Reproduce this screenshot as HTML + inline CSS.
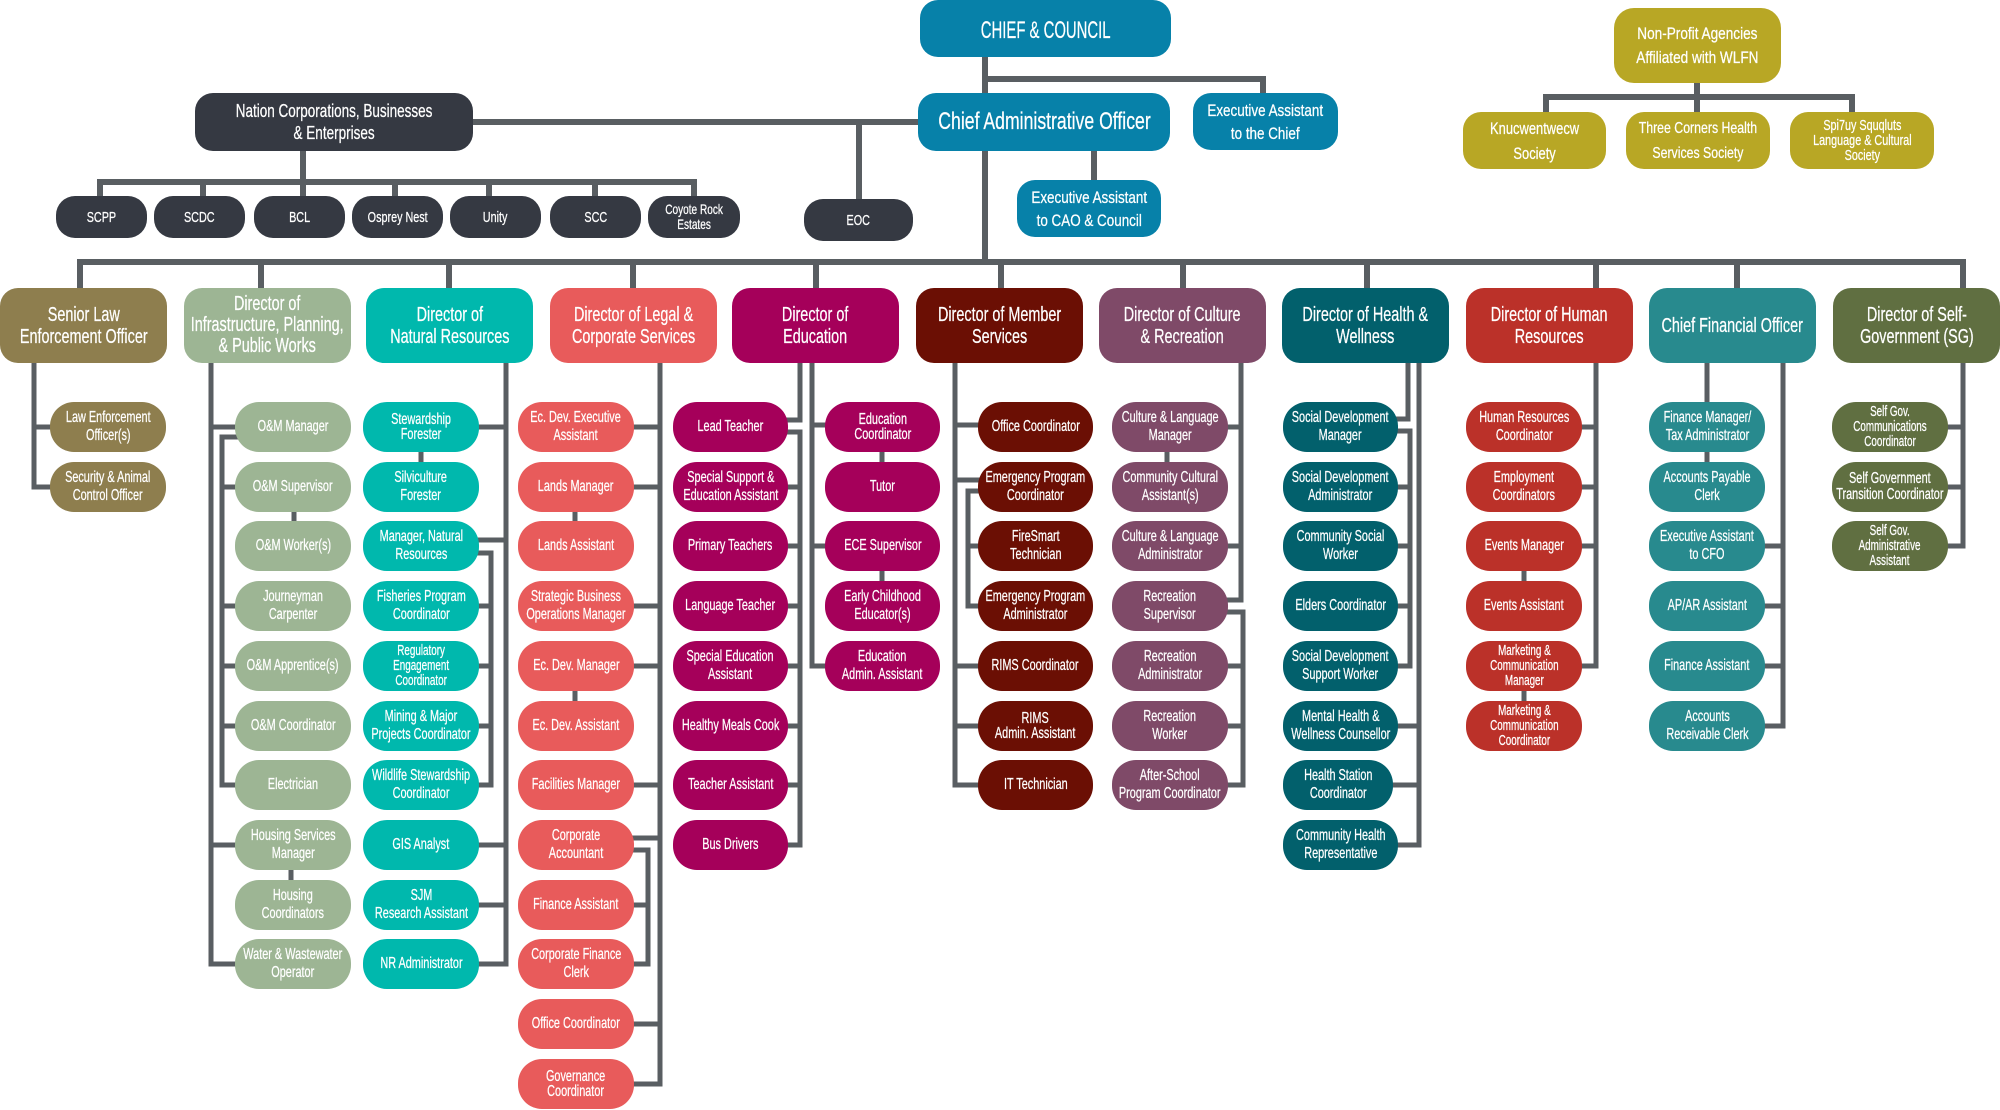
<!DOCTYPE html>
<html><head><meta charset="utf-8"><style>
*{margin:0;padding:0;box-sizing:border-box}
body{width:2000px;height:1110px;background:#fff;position:relative;overflow:hidden;font-family:"Liberation Sans",Arial,sans-serif}
svg{position:absolute;left:0;top:0}
.b{position:absolute;display:flex;align-items:center;justify-content:center;text-align:center;color:#fff}
.b span{display:inline-block;white-space:nowrap;transform:scaleX(var(--s,.68));-webkit-text-stroke:0.25px #fff}
.s{height:50px;border-radius:24px;font-size:16px;line-height:18px}
.t{font-size:14.5px;line-height:15px}
.d{top:288px;height:75px;width:167px;border-radius:18px;font-size:20px;line-height:22px;--s:.72}
.co{top:196px;height:42px;width:91px;border-radius:19px;background:#353942;font-size:15px;line-height:15px;--s:.72}
.g{background:#b8a725}
.bl{background:#0781a9}
.c1{left:50px;width:116px;background:#8e7e4e}
.c2{left:235px;width:116px;background:#9db594}
.c3{left:363px;width:116px;background:#00b8ad}
.c4{left:518px;width:116px;background:#e85b5b}
.c5{left:673px;width:115px;background:#a5005a}
.c5b{left:825px;width:115px;background:#a5005a}
.c6{left:978px;width:115px;background:#6b0f04}
.c7{left:1112px;width:116px;background:#7f4a68}
.c8{left:1283px;width:115px;background:#02606c}
.c9{left:1466px;width:116px;background:#bb3129}
.c10{left:1649px;width:116px;background:#288a8e}
.c11{left:1832px;width:116px;background:#606f41}
.r1{top:402px}.r2{top:462px}.r3{top:521px}.r4{top:581px}.r5{top:641px}.r6{top:701px}
.r7{top:760px}.r8{top:820px}.r9{top:880px}.r10{top:939px}.r11{top:999px}.r12{top:1059px}
</style></head><body>
<svg width="2000" height="1110" fill="none" stroke="#595e62">
<g stroke-width="6">
<path d="M985 50V100 M985 79H1263V100 M470 122H925 M859 122V205 M985 145V262 M1094 145V185 M77 262H1966
M80 262V295 M261 262V295 M449 262V295 M633 262V295 M816 262V295 M1001 262V295 M1183 262V295 M1367 262V295 M1596 262V295 M1737 262V295 M1963 262V295
M303 145V182 M97 182H697 M100 182V200 M203 182V200 M303 182V200 M395 182V200 M489 182V200 M595 182V200 M694 182V200
M1697 80V97 M1543 97H1855 M1546 97V116 M1697 97V116 M1852 97V116"/>
</g>
<g stroke-width="5">
<path d="M34 360V487H55 M34 427H55"/>
<path d="M211 360V964H240 M211 427H240 M211 845H240 M240 437H222V785H240 M222 487H240 M222 606H240 M222 666H240 M222 726H240 M294 508V525 M291 866V884"/>
<path d="M506 360V964H474 M506 427H474 M506 540H474 M506 845H474 M506 905H474 M474 553H491V785H474 M491 606H474 M491 666H474 M491 726H474 M421 448V466"/>
<path d="M660 360V1084H630 M660 427H630 M660 487H630 M660 606H630 M660 666H630 M660 785H630 M660 838H630 M660 1024H630 M630 850H648V964H630 M648 905H630 M575 508V525 M575 687V705"/>
<path d="M800 360V420H783 M783 432H800V845H783 M800 487H783 M800 546H783 M800 606H783 M800 666H783 M800 726H783 M800 785H783 M812 360V666H830 M812 425H830 M812 546H830 M882 448V466 M882 567V585"/>
<path d="M955 360V785H983 M955 425H983 M955 480H983 M955 666H983 M955 726H983 M983 491H968V606H983 M968 546H983"/>
<path d="M1241 360V600H1222 M1241 427H1222 M1241 546H1222 M1222 612H1243V785H1222 M1243 666H1222 M1243 726H1222 M1167 448V466"/>
<path d="M1408 360V419H1393 M1393 431H1410V666H1393 M1410 487H1393 M1410 546H1393 M1410 606H1393 M1419 360V845H1393 M1419 726H1393 M1419 785H1388"/>
<path d="M1596 360V666H1577 M1596 427H1577 M1596 487H1577 M1596 546H1577 M1524 567V585 M1524 687V705"/>
<path d="M1707 360V410 M1707 448V466 M1783 360V726H1760 M1783 546H1760 M1783 606H1760 M1783 666H1760"/>
<path d="M1963 360V546H1943 M1963 427H1943 M1963 487H1943"/>
</g>
</svg>

<!-- top -->
<div class="b bl" style="left:920px;top:0;width:251px;height:57px;border-radius:18px;font-size:24px;--s:.62"><span style="position:relative;top:2px">CHIEF &amp; COUNCIL</span></div>
<div class="b bl" style="left:918px;top:93px;width:252px;height:58px;border-radius:18px;font-size:24px;--s:.735"><span>Chief Administrative Officer</span></div>
<div class="b bl" style="left:1193px;top:93px;width:145px;height:57px;border-radius:18px;font-size:17px;line-height:23px;--s:.79"><span>Executive Assistant<br>to the Chief</span></div>
<div class="b bl" style="left:1017px;top:180px;width:144px;height:57px;border-radius:18px;font-size:17px;line-height:23px;--s:.79"><span>Executive Assistant<br>to CAO &amp; Council</span></div>
<div class="b" style="left:195px;top:93px;width:278px;height:58px;border-radius:18px;background:#353942;font-size:18px;line-height:22px;--s:.75"><span>Nation Corporations, Businesses<br>&amp; Enterprises</span></div>

<div class="b co" style="left:56px"><span>SCPP</span></div>
<div class="b co" style="left:154px"><span>SCDC</span></div>
<div class="b co" style="left:254px"><span>BCL</span></div>
<div class="b co" style="left:352px"><span>Osprey Nest</span></div>
<div class="b co" style="left:450px"><span>Unity</span></div>
<div class="b co" style="left:550px"><span>SCC</span></div>
<div class="b co" style="left:648px;width:92px;font-size:14px;line-height:15px"><span>Coyote Rock<br>Estates</span></div>
<div class="b co" style="left:804px;top:199px;width:109px"><span>EOC</span></div>

<div class="b g" style="left:1614px;top:8px;width:167px;height:75px;border-radius:20px;font-size:17px;line-height:24px;--s:.8"><span>Non-Profit Agencies<br>Affiliated with WLFN</span></div>
<div class="b g" style="left:1463px;top:112px;width:143px;height:57px;border-radius:18px;font-size:17px;line-height:25px;--s:.76"><span>Knucwentwecw<br>Society</span></div>
<div class="b g" style="left:1626px;top:112px;width:144px;height:57px;border-radius:18px;font-size:16px;line-height:25px;--s:.77"><span>Three Corners Health<br>Services Society</span></div>
<div class="b g" style="left:1790px;top:112px;width:144px;height:57px;border-radius:18px;font-size:15px;line-height:15px;--s:.72"><span>Spi7uy Squqluts<br>Language &amp; Cultural<br>Society</span></div>

<!-- directors -->
<div class="b d" style="left:0;background:#8e7e4e"><span>Senior Law<br>Enforcement Officer</span></div>
<div class="b d" style="left:184px;background:#9db594;line-height:21px"><span>Director of<br>Infrastructure, Planning,<br>&amp; Public Works</span></div>
<div class="b d" style="left:366px;background:#00b8ad"><span>Director of<br>Natural Resources</span></div>
<div class="b d" style="left:550px;background:#e85b5b"><span>Director of Legal &amp;<br>Corporate Services</span></div>
<div class="b d" style="left:732px;background:#a5005a"><span>Director of<br>Education</span></div>
<div class="b d" style="left:916px;background:#6b0f04"><span>Director of Member<br>Services</span></div>
<div class="b d" style="left:1099px;background:#7f4a68"><span>Director of Culture<br>&amp; Recreation</span></div>
<div class="b d" style="left:1282px;background:#02606c"><span>Director of Health &amp;<br>Wellness</span></div>
<div class="b d" style="left:1466px;background:#bb3129"><span>Director of Human<br>Resources</span></div>
<div class="b d" style="left:1649px;background:#288a8e"><span>Chief Financial Officer</span></div>
<div class="b d" style="left:1833px;background:#606f41"><span>Director of Self-<br>Government (SG)</span></div>

<!-- C1 -->
<div class="b s c1 r1"><span>Law Enforcement<br>Officer(s)</span></div>
<div class="b s c1 r2"><span>Security &amp; Animal<br>Control Officer</span></div>

<!-- C2 -->
<div class="b s c2 r1"><span>O&amp;M Manager</span></div>
<div class="b s c2 r2"><span>O&amp;M Supervisor</span></div>
<div class="b s c2 r3"><span>O&amp;M Worker(s)</span></div>
<div class="b s c2 r4"><span>Journeyman<br>Carpenter</span></div>
<div class="b s c2 r5"><span>O&amp;M Apprentice(s)</span></div>
<div class="b s c2 r6"><span>O&amp;M Coordinator</span></div>
<div class="b s c2 r7"><span>Electrician</span></div>
<div class="b s c2 r8"><span>Housing Services<br>Manager</span></div>
<div class="b s c2 r9"><span>Housing<br>Coordinators</span></div>
<div class="b s c2 r10"><span>Water &amp; Wastewater<br>Operator</span></div>

<!-- C3 -->
<div class="b s c3 r1" style="line-height:15px"><span>Stewardship<br>Forester</span></div>
<div class="b s c3 r2"><span>Silviculture<br>Forester</span></div>
<div class="b s c3 r3"><span>Manager, Natural<br>Resources</span></div>
<div class="b s c3 r4"><span>Fisheries Program<br>Coordinator</span></div>
<div class="b s c3 r5 t"><span>Regulatory<br>Engagement<br>Coordinator</span></div>
<div class="b s c3 r6"><span>Mining &amp; Major<br>Projects Coordinator</span></div>
<div class="b s c3 r7"><span>Wildlife Stewardship<br>Coordinator</span></div>
<div class="b s c3 r8"><span>GIS Analyst</span></div>
<div class="b s c3 r9"><span>SJM<br>Research Assistant</span></div>
<div class="b s c3 r10"><span>NR Administrator</span></div>

<!-- C4 -->
<div class="b s c4 r1"><span>Ec. Dev. Executive<br>Assistant</span></div>
<div class="b s c4 r2"><span>Lands Manager</span></div>
<div class="b s c4 r3"><span>Lands Assistant</span></div>
<div class="b s c4 r4"><span>Strategic Business<br>Operations Manager</span></div>
<div class="b s c4 r5"><span>Ec. Dev. Manager</span></div>
<div class="b s c4 r6"><span>Ec. Dev. Assistant</span></div>
<div class="b s c4 r7"><span>Facilities Manager</span></div>
<div class="b s c4 r8"><span>Corporate<br>Accountant</span></div>
<div class="b s c4 r9"><span>Finance Assistant</span></div>
<div class="b s c4 r10"><span>Corporate Finance<br>Clerk</span></div>
<div class="b s c4 r11"><span>Office Coordinator</span></div>
<div class="b s c4 r12" style="line-height:15px"><span>Governance<br>Coordinator</span></div>

<!-- C5 -->
<div class="b s c5 r1"><span>Lead Teacher</span></div>
<div class="b s c5 r2"><span>Special Support &amp;<br>Education Assistant</span></div>
<div class="b s c5 r3"><span>Primary Teachers</span></div>
<div class="b s c5 r4"><span>Language Teacher</span></div>
<div class="b s c5 r5"><span>Special Education<br>Assistant</span></div>
<div class="b s c5 r6"><span>Healthy Meals Cook</span></div>
<div class="b s c5 r7"><span>Teacher Assistant</span></div>
<div class="b s c5 r8"><span>Bus Drivers</span></div>

<div class="b s c5b r1" style="line-height:15px"><span>Education<br>Coordinator</span></div>
<div class="b s c5b r2"><span>Tutor</span></div>
<div class="b s c5b r3"><span>ECE Supervisor</span></div>
<div class="b s c5b r4"><span>Early Childhood<br>Educator(s)</span></div>
<div class="b s c5b r5"><span>Education<br>Admin. Assistant</span></div>

<!-- C6 -->
<div class="b s c6 r1"><span>Office Coordinator</span></div>
<div class="b s c6 r2"><span>Emergency Program<br>Coordinator</span></div>
<div class="b s c6 r3"><span>FireSmart<br>Technician</span></div>
<div class="b s c6 r4"><span>Emergency Program<br>Administrator</span></div>
<div class="b s c6 r5"><span>RIMS Coordinator</span></div>
<div class="b s c6 r6" style="line-height:15px"><span>RIMS<br>Admin. Assistant</span></div>
<div class="b s c6 r7"><span>IT Technician</span></div>

<!-- C7 -->
<div class="b s c7 r1"><span>Culture &amp; Language<br>Manager</span></div>
<div class="b s c7 r2"><span>Community Cultural<br>Assistant(s)</span></div>
<div class="b s c7 r3"><span>Culture &amp; Language<br>Administrator</span></div>
<div class="b s c7 r4"><span>Recreation<br>Supervisor</span></div>
<div class="b s c7 r5"><span>Recreation<br>Administrator</span></div>
<div class="b s c7 r6"><span>Recreation<br>Worker</span></div>
<div class="b s c7 r7"><span>After-School<br>Program Coordinator</span></div>

<!-- C8 -->
<div class="b s c8 r1"><span>Social Development<br>Manager</span></div>
<div class="b s c8 r2"><span>Social Development<br>Administrator</span></div>
<div class="b s c8 r3"><span>Community Social<br>Worker</span></div>
<div class="b s c8 r4"><span>Elders Coordinator</span></div>
<div class="b s c8 r5"><span>Social Development<br>Support Worker</span></div>
<div class="b s c8 r6"><span>Mental Health &amp;<br>Wellness Counsellor</span></div>
<div class="b s c8 r7" style="width:110px"><span>Health Station<br>Coordinator</span></div>
<div class="b s c8 r8"><span>Community Health<br>Representative</span></div>

<!-- C9 -->
<div class="b s c9 r1"><span>Human Resources<br>Coordinator</span></div>
<div class="b s c9 r2"><span>Employment<br>Coordinators</span></div>
<div class="b s c9 r3"><span>Events Manager</span></div>
<div class="b s c9 r4"><span>Events Assistant</span></div>
<div class="b s c9 r5 t"><span>Marketing &amp;<br>Communication<br>Manager</span></div>
<div class="b s c9 r6 t"><span>Marketing &amp;<br>Communication<br>Coordinator</span></div>

<!-- C10 -->
<div class="b s c10 r1"><span>Finance Manager/<br>Tax Administrator</span></div>
<div class="b s c10 r2"><span>Accounts Payable<br>Clerk</span></div>
<div class="b s c10 r3"><span>Executive Assistant<br>to CFO</span></div>
<div class="b s c10 r4"><span>AP/AR Assistant</span></div>
<div class="b s c10 r5"><span>Finance Assistant</span></div>
<div class="b s c10 r6"><span>Accounts<br>Receivable Clerk</span></div>

<!-- C11 -->
<div class="b s c11 r1 t"><span>Self Gov.<br>Communications<br>Coordinator</span></div>
<div class="b s c11 r2" style="line-height:16px"><span>Self Government<br>Transition Coordinator</span></div>
<div class="b s c11 r3 t"><span>Self Gov.<br>Administrative<br>Assistant</span></div>
</body></html>
